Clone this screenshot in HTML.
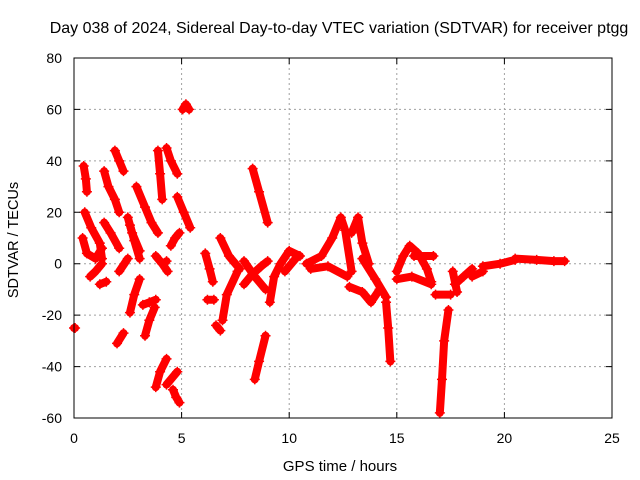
<!DOCTYPE html>
<html><head><meta charset="utf-8"><style>
body{margin:0;background:#fff}
svg{display:block;font-family:"Liberation Sans",sans-serif;font-size:14px}
</style></head><body>
<svg id="chart" width="640" height="480">
<text x="339" y="33" text-anchor="middle" style="font-size:16px">Day 038 of 2024, Sidereal Day-to-day VTEC variation (SDTVAR) for receiver ptgg</text>
<text transform="translate(18,240) rotate(-90)" text-anchor="middle" style="font-size:14.5px">SDTVAR / TECUs</text>
<text x="340" y="471" text-anchor="middle" style="font-size:15px">GPS time / hours</text>
<g id="grid"></g>
<g id="marks"></g>
<rect x="74" y="58" width="538" height="360" fill="none" stroke="#000" stroke-width="1"/>
<g id="ticks"></g>
</svg>
<script>
const xTicks=[0,5,10,15,20,25];
const yTicks=[-60,-40,-20,0,20,40,60,80];
const tracks=[
[[0,-25],[0.05,-25]],
[[0.45,38],[0.55,33],[0.6,28]],
[[0.5,20],[0.8,14],[1.2,8],[1.3,2]],
[[0.4,10],[0.6,4],[1.0,2],[1.3,6]],
[[0.75,-5],[1.0,-3],[1.3,0]],
[[1.2,-8],[1.5,-7]],
[[1.4,36],[1.6,30],[1.9,25],[2.1,20]],
[[1.9,44],[2.1,40],[2.3,36]],
[[1.4,16],[1.7,12],[2.1,6]],
[[2.6,15],[2.8,9],[3.05,2]],
[[2.1,-3],[2.5,2]],
[[2.0,-31],[2.3,-27]],
[[2.6,-19],[2.8,-12],[3.05,-6]],
[[3.2,-16],[3.5,-15],[3.8,-14]],
[[3.3,-28],[3.5,-22],[3.75,-17]],
[[3.9,44],[4.0,35],[4.1,25]],
[[4.3,45],[4.5,40],[4.8,35]],
[[2.9,30],[3.3,22],[3.6,16],[3.9,12]],
[[2.5,18],[2.7,12],[3.05,5]],
[[4.15,0],[4.3,1]],
[[5.05,60],[5.2,62],[5.35,60]],
[[4.8,26],[5.1,20],[5.4,14]],
[[4.5,7],[4.7,10],[4.9,12]],
[[3.8,3],[4.1,0],[4.35,-3]],
[[3.8,-48],[4.0,-42],[4.3,-37]],
[[4.3,-47],[4.8,-42]],
[[4.6,-49],[4.75,-52],[4.9,-54]],
[[8.3,37],[8.6,28],[9.0,16]],
[[8.4,-45],[8.6,-38],[8.9,-28]],
[[6.1,4],[6.3,-2],[6.45,-7]],
[[6.8,10],[7.2,3],[7.7,-2]],
[[6.9,-22],[7.1,-12],[7.6,-3]],
[[7.9,-8],[8.3,-4],[8.7,-1],[9.0,1]],
[[7.9,1],[8.4,-5],[8.9,-10]],
[[9.1,-15],[9.3,-5],[9.6,0],[10,5],[10.5,3]],
[[9.8,-3],[10.3,2]],
[[6.2,-14],[6.5,-14]],
[[6.6,-24],[6.8,-26]],
[[10.8,0],[11.5,3],[12.0,10],[12.4,18],[12.6,13],[12.9,-3]],
[[11.0,-2],[11.8,-1],[12.7,-5]],
[[12.9,12],[13.2,18],[13.4,8],[13.7,0]],
[[12.8,-9],[13.4,-11],[13.8,-15],[14.2,-10]],
[[13.4,2],[14.0,-6],[14.5,-13]],
[[14.5,-15],[14.6,-25],[14.7,-38]],
[[15.0,-3],[15.3,3],[15.6,7],[16.0,4],[16.4,-2],[16.6,-7]],
[[15.0,-6],[15.7,-5],[16.6,-8]],
[[15.8,3],[16.7,3]],
[[16.8,-12],[17.5,-12]],
[[17.0,-58],[17.1,-45],[17.2,-30],[17.4,-18]],
[[17.6,-3],[17.8,-11]],
[[17.7,-8],[18.1,-5],[18.5,-2]],
[[18.5,-5],[19.0,-3]],
[[19.0,-1],[19.8,0],[20.5,1.5]],
[[20.5,2],[21.5,1.5],[22.3,1],[22.8,1]]
];
const sx=v=>74+v*(538/25);
const sy=v=>418-(v+60)*(360/140);
const NS='http://www.w3.org/2000/svg';
const grid=document.getElementById('grid'),ticks=document.getElementById('ticks'),marks=document.getElementById('marks');
function mk(tag,attrs,parent){const e=document.createElementNS(NS,tag);for(const k in attrs)e.setAttribute(k,attrs[k]);parent.appendChild(e);return e;}
xTicks.forEach(t=>{const x=sx(t);
 if(t>0&&t<25){const g=mk('line',{x1:x,x2:x,y1:58,y2:418,stroke:'#a0a0a0','stroke-dasharray':'2,3'},grid);
 
 }
 const a=mk('path',{d:`M${x},418v-6M${x},58v6`,stroke:'#000'},ticks);
 
 
 const l=mk('text',{x:x,y:443,'text-anchor':'middle'},ticks);l.textContent=t;
 
 });
yTicks.forEach(t=>{const y=sy(t);
 if(t>-60&&t<80){const g=mk('line',{x1:74,x2:612,y1:y,y2:y,stroke:'#a0a0a0','stroke-dasharray':'2,3'},grid);
 
 }
 const a=mk('path',{d:`M74,${y}h6M612,${y}h-6`,stroke:'#000'},ticks);
 
 
 const l=mk('text',{x:62,y:y+5,'text-anchor':'end'},ticks);l.textContent=t;
 
 });
tracks.forEach(tr=>{
 const pts=tr.map(p=>sx(p[0])+','+sy(p[1])).join(' ');
 const pl=mk('polyline',{points:pts,fill:'none',stroke:'#f00','stroke-width':8,'stroke-linecap':'round','stroke-linejoin':'round'},marks);
 
 
 tr.forEach(p=>{const x=sx(p[0]),y=sy(p[1]);
  const m=mk('path',{d:`M${x-5},${y}h10M${x},${y-5}v10`,stroke:'#f00','stroke-width':1.5},marks);
  
  });
});
</script>
</body></html>
